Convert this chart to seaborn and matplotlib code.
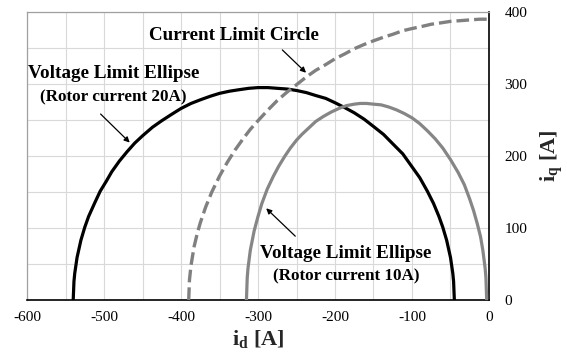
import matplotlib
matplotlib.use("Agg")
import matplotlib.pyplot as plt
import seaborn as sns
import pandas as pd
from matplotlib.ticker import MultipleLocator

# ---- data ----
# Voltage limit ellipse, rotor current 20A
v20_id = [-540, -539, -538, -535, -530, -525, -520, -512, -505, -497, -490, -480, -470, -460,
          -450, -437, -425, -412, -400, -387, -375, -362, -350, -337, -325, -312, -300,
          -287, -275, -262, -250, -237, -225, -212, -200, -187, -175, -162, -150, -137,
          -125, -112, -100, -90, -80, -72, -65, -60, -55, -50, -47, -46, -45]
v20_iq = [0, 26, 37, 59, 83, 101, 116, 135, 151, 165, 178, 193, 206, 218,
          228, 240, 249, 258, 266, 273, 278, 283, 287, 290, 292, 294, 295,
          295, 294, 293, 291, 288, 284, 280, 274, 267, 260, 251, 241, 230,
          217, 203, 185, 170, 151, 134, 116, 101, 83, 59, 37, 26, 0]
# Voltage limit ellipse, rotor current 10A
v10_id = [-315, -314, -313, -310, -305, -300, -295, -288, -280, -273, -265, -258, -250, -243,
          -235, -225, -215, -205, -195, -185, -175, -167, -159, -150, -140, -130, -120,
          -110, -100, -90, -80, -70, -60, -50, -40, -32, -25, -20, -15, -11, -8, -5,
          -4, -3]
v10_iq = [0, 31, 44, 69, 96, 116, 134, 154, 172, 186, 200, 211, 222, 230,
          238, 248, 255, 261, 266, 270, 272, 273, 273, 272, 271, 268, 264,
          259, 253, 245, 235, 224, 211, 195, 177, 160, 140, 124, 105, 88, 69, 44,
          31, 0]
# Current limit circle
cl_id = [-390, -389, -387, -383, -379, -375, -368, -360, -350, -340, -330, -320, -310,
         -300, -287, -275, -262, -250, -237, -225, -212, -200, -187, -175, -162, -150,
         -137, -125, -112, -100, -87, -75, -62, -50, -37, -25, -12, 0]
cl_iq = [0, 28, 48, 74, 92, 107, 129, 150, 172, 191, 208, 223, 237,
         249, 264, 277, 289, 299, 310, 319, 327, 335, 342, 349, 355, 360,
         365, 369, 374, 377, 380, 383, 385, 387, 388, 389, 390, 390]

x_ticks = [-600, -500, -400, -300, -200, -100, 0]
y_ticks = [0, 100, 200, 300, 400]

sns.set_theme(style="white")
plt.rcParams["font.family"] = ["Liberation Serif", "DejaVu Serif"]
plt.rcParams["axes.unicode_minus"] = False
plt.rcParams["mathtext.fontset"] = "custom"
plt.rcParams["mathtext.rm"] = "Liberation Serif"
plt.rcParams["mathtext.it"] = "Liberation Serif:italic"
plt.rcParams["mathtext.bf"] = "Liberation Serif:bold"

fig = plt.figure(figsize=(5.67, 3.62), dpi=100)
ax = fig.add_axes([27 / 567, 1 - 300 / 362, (489 - 27) / 567, (300 - 12) / 362])

df20 = pd.DataFrame({"id": v20_id, "iq": v20_iq})
df10 = pd.DataFrame({"id": v10_id, "iq": v10_iq})
dfc = pd.DataFrame({"id": cl_id, "iq": cl_iq})

sns.lineplot(data=df20, x="id", y="iq", sort=False, color="black", lw=2.3, ax=ax, zorder=3)
sns.lineplot(data=df10, x="id", y="iq", sort=False, color="#868686", lw=2.3, ax=ax, zorder=3)
sns.lineplot(data=dfc, x="id", y="iq", sort=False, color="#808080", lw=2.4, ax=ax,
             zorder=3, dashes=False, linestyle=(0, (3.8, 1.5)))

ax.set_xlim(-600, 0)
ax.set_ylim(0, 400)
ax.set_xticks(x_ticks)
ax.set_yticks(y_ticks)
ax.xaxis.set_minor_locator(MultipleLocator(50))
ax.yaxis.set_minor_locator(MultipleLocator(50))
ax.grid(which="both", color="#d9d9d9", lw=0.8)
ax.set_axisbelow(True)

ax.yaxis.tick_right()
ax.yaxis.set_label_position("right")
ax.tick_params(axis="both", which="both", length=0, labelsize=11, labelcolor="black")
ax.tick_params(axis="x", pad=8)
ax.tick_params(axis="y", pad=11)

for s in ["left", "top"]:
    ax.spines[s].set_color("#a0a0a0")
    ax.spines[s].set_linewidth(0.9)
for s in ["bottom", "right"]:
    ax.spines[s].set_color("black")
    ax.spines[s].set_linewidth(1.2)

ax.set_xlabel(r"$\mathbf{i_d}$ [A]", fontsize=16, fontweight="bold", labelpad=3)
ax.set_ylabel(r"$\mathbf{i_q}$ [A]", fontsize=16, fontweight="bold", labelpad=8)

tb = dict(fontweight="bold", ha="center", va="center", color="black")
ax.text(-331, 368, "Current Limit Circle", fontsize=13.7, **tb)
ax.text(-487, 314, "Voltage Limit Ellipse", fontsize=13.8, **tb)
ax.text(-488, 282, "(Rotor current 20A)", fontsize=12.3, **tb)
ax.text(-186, 64, "Voltage Limit Ellipse", fontsize=13.8, **tb)
ax.text(-186, 33, "(Rotor current 10A)", fontsize=12.3, **tb)

ap = dict(arrowstyle="-|>", color="black", lw=0.9, mutation_scale=8)
ax.annotate("", xy=(-235, 313), xytext=(-271, 350), arrowprops=ap)
ax.annotate("", xy=(-464, 216), xytext=(-507, 261), arrowprops=ap)
ax.annotate("", xy=(-292, 130), xytext=(-249, 86), arrowprops=ap)

fig.savefig("out.png", dpi=100)
